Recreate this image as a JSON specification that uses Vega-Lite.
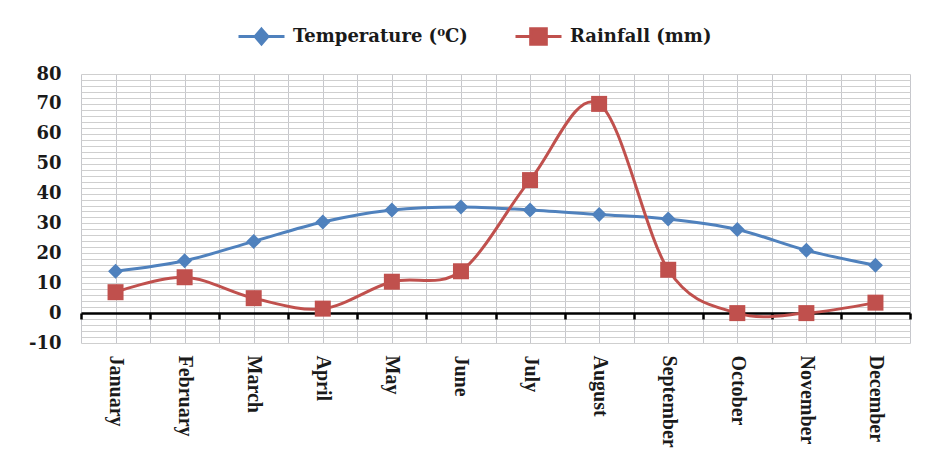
{
  "$schema": "https://vega.github.io/schema/vega-lite/v6.json",
  "autosize": {"type": "none"},
  "width": 829,
  "height": 269,
  "padding": {"left": 81, "top": 74, "right": 17, "bottom": 122},
  "background": "white",
  "config": {"view": {"stroke": null}},
  "datasets": {
    "temp": [
      {"m": 1, "month": "January", "series": "Temperature (⁰C)", "value": 14},
      {"m": 2, "month": "February", "series": "Temperature (⁰C)", "value": 17.5},
      {"m": 3, "month": "March", "series": "Temperature (⁰C)", "value": 24},
      {"m": 4, "month": "April", "series": "Temperature (⁰C)", "value": 30.5},
      {"m": 5, "month": "May", "series": "Temperature (⁰C)", "value": 34.5},
      {"m": 6, "month": "June", "series": "Temperature (⁰C)", "value": 35.5},
      {"m": 7, "month": "July", "series": "Temperature (⁰C)", "value": 34.5},
      {"m": 8, "month": "August", "series": "Temperature (⁰C)", "value": 33},
      {"m": 9, "month": "September", "series": "Temperature (⁰C)", "value": 31.5},
      {"m": 10, "month": "October", "series": "Temperature (⁰C)", "value": 28},
      {"m": 11, "month": "November", "series": "Temperature (⁰C)", "value": 21},
      {"m": 12, "month": "December", "series": "Temperature (⁰C)", "value": 16}
    ],
    "rain": [
      {"m": 1, "month": "January", "series": "Rainfall (mm)", "value": 7},
      {"m": 2, "month": "February", "series": "Rainfall (mm)", "value": 12},
      {"m": 3, "month": "March", "series": "Rainfall (mm)", "value": 5},
      {"m": 4, "month": "April", "series": "Rainfall (mm)", "value": 1.5},
      {"m": 5, "month": "May", "series": "Rainfall (mm)", "value": 10.5},
      {"m": 6, "month": "June", "series": "Rainfall (mm)", "value": 14},
      {"m": 7, "month": "July", "series": "Rainfall (mm)", "value": 44.5},
      {"m": 8, "month": "August", "series": "Rainfall (mm)", "value": 70},
      {"m": 9, "month": "September", "series": "Rainfall (mm)", "value": 14.5},
      {"m": 10, "month": "October", "series": "Rainfall (mm)", "value": 0},
      {"m": 11, "month": "November", "series": "Rainfall (mm)", "value": 0},
      {"m": 12, "month": "December", "series": "Rainfall (mm)", "value": 3.5}
    ]
  },
  "encoding": {
    "y": {
      "field": "value",
      "type": "quantitative",
      "scale": {"domain": [-10, 80], "nice": false, "zero": false},
      "axis": {
        "title": null,
        "values": [-10, -8, -6, -4, -2, 0, 2, 4, 6, 8, 10, 12, 14, 16, 18, 20, 22, 24, 26, 28, 30, 32, 34, 36, 38, 40, 42, 44, 46, 48, 50, 52, 54, 56, 58, 60, 62, 64, 66, 68, 70, 72, 74, 76, 78, 80],
        "labelExpr": "datum.value % 10 === 0 ? '' + datum.value : ''",
        "labelFont": "DejaVu Serif",
        "labelFontWeight": "bold",
        "labelFontSize": 18,
        "labelColor": "#1a1a1a",
        "labelPadding": 20,
        "labelOverlap": false,
        "labelFlush": false,
        "ticks": false,
        "domain": false,
        "grid": true,
        "gridColor": "#cfcfcf",
        "gridWidth": 1
      }
    }
  },
  "layer": [
    {
      "data": {"name": "temp"},
      "mark": {"type": "line", "interpolate": "cardinal", "tension": 0, "strokeWidth": 3},
      "encoding": {
        "x": {
          "field": "m",
          "type": "quantitative",
          "scale": {"domain": [0.5, 12.5], "nice": false, "zero": false},
          "axis": {
            "title": null,
            "orient": "bottom",
            "values": [0.5, 1, 1.5, 2, 2.5, 3, 3.5, 4, 4.5, 5, 5.5, 6, 6.5, 7, 7.5, 8, 8.5, 9, 9.5, 10, 10.5, 11, 11.5, 12, 12.5],
            "labelExpr": "datum.value % 1 === 0 ? ['January','February','March','April','May','June','July','August','September','October','November','December'][datum.value - 1] : ''",
            "labelAngle": 90,
            "labelAlign": "left",
            "labelBaseline": "middle",
            "labelFont": "Liberation Serif",
            "labelFontWeight": "bold",
            "labelFontSize": 20,
            "labelColor": "#1a1a1a",
            "labelPadding": 12,
            "labelOverlap": false,
            "labelFlush": false,
            "labelBound": false,
            "ticks": false,
            "domain": false,
            "grid": true,
            "gridColor": "#c6c7cc",
            "gridWidth": 1
          }
        },
        "color": {
          "field": "series",
          "type": "nominal",
          "scale": {"domain": ["Temperature (⁰C)"], "range": ["#4F81BD"]},
          "legend": {
            "title": null,
            "orient": "none",
            "legendX": 156,
            "legendY": -62,
            "symbolType": "M-1,0H1M0,-0.32L0.28,0L0,0.32L-0.28,0Z",
            "symbolSize": 2116,
            "symbolStrokeWidth": 3,
            "symbolFillColor": "#4F81BD",
            "symbolStrokeColor": "#4F81BD",
            "symbolOpacity": 1,
            "labelFont": "DejaVu Serif",
            "labelFontWeight": "bold",
            "labelFontSize": 18,
            "labelLimit": 400,
            "labelColor": "#1a1a1a",
            "labelOffset": 7
          }
        }
      }
    },
    {
      "data": {"name": "temp"},
      "mark": {"type": "point", "filled": true, "opacity": 1, "size": 225, "shape": "diamond"},
      "encoding": {
        "x": {"field": "m", "type": "quantitative", "axis": null},
        "color": {"field": "series", "type": "nominal", "scale": {"domain": ["Temperature (⁰C)"], "range": ["#4F81BD"]}, "legend": null}
      }
    },
    {
      "data": {"name": "rain"},
      "mark": {"type": "line", "interpolate": "cardinal", "tension": 0, "strokeWidth": 3},
      "encoding": {
        "x": {"field": "m", "type": "quantitative", "axis": null},
        "color": {
          "field": "series",
          "type": "nominal",
          "scale": {"domain": ["Rainfall (mm)"], "range": ["#C0504D"]},
          "legend": {
            "title": null,
            "orient": "none",
            "legendX": 433,
            "legendY": -62,
            "symbolType": "M-1,0H1M-0.34,-0.34H0.34V0.34H-0.34Z",
            "symbolSize": 2116,
            "symbolStrokeWidth": 3,
            "symbolFillColor": "#C0504D",
            "symbolStrokeColor": "#C0504D",
            "symbolOpacity": 1,
            "labelFont": "DejaVu Serif",
            "labelFontWeight": "bold",
            "labelFontSize": 18,
            "labelLimit": 400,
            "labelColor": "#1a1a1a",
            "labelOffset": 7
          }
        }
      }
    },
    {
      "data": {"name": "rain"},
      "mark": {"type": "point", "filled": true, "opacity": 1, "size": 256, "shape": "square"},
      "encoding": {
        "x": {
          "field": "m",
          "type": "quantitative",
          "axis": {
            "title": null,
            "orient": "bottom",
            "offset": -30,
            "values": [0.5, 1.5, 2.5, 3.5, 4.5, 5.5, 6.5, 7.5, 8.5, 9.5, 10.5, 11.5, 12.5],
            "labels": false,
            "grid": false,
            "ticks": true,
            "tickColor": "black",
            "tickWidth": 2.5,
            "tickSize": 6,
            "domain": true,
            "domainColor": "black",
            "domainWidth": 2.5
          }
        },
        "color": {"field": "series", "type": "nominal", "scale": {"domain": ["Rainfall (mm)"], "range": ["#C0504D"]}, "legend": null}
      }
    }
  ],
  "resolve": {"axis": {"x": "independent"}, "scale": {"color": "independent"}, "legend": {"color": "independent"}}
}
